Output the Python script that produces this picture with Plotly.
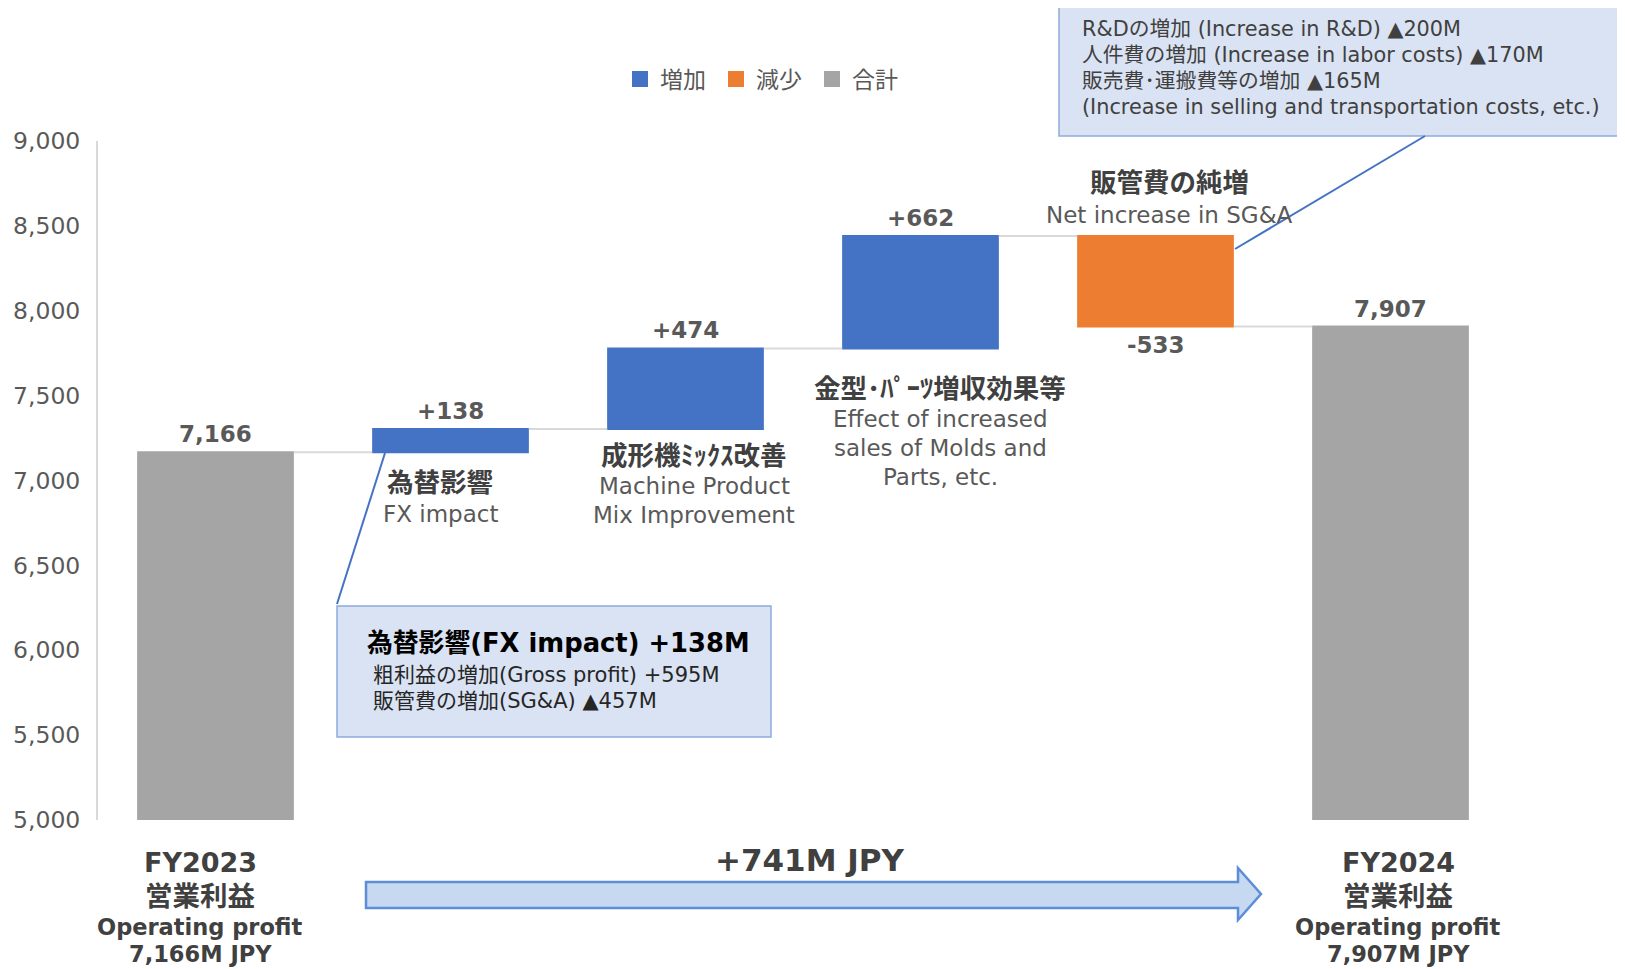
import plotly.graph_objects as go

# data
categories = ["FY2023", "為替影響", "成形機ﾐｯｸｽ改善", "金型･ﾊﾟｰﾂ増収効果等", "販管費の純増", "FY2024"]
values = [7166, 138, 474, 662, -533, 7907]
measures = ["absolute", "relative", "relative", "relative", "relative", "total"]
value_labels = ["7,166", "+138", "+474", "+662", "-533", "7,907"]
legend_names = ["増加", "減少", "合計"]

BLUE, ORANGE, GRAY = "#4472c4", "#ed7d31", "#a5a5a5"
FONT = "DejaVu Sans, Noto Sans CJK JP"

# page is 1625x969; the html body adds an 8px margin, so the figure is drawn smaller
OFF = 8
PAGE_W, PAGE_H = 1625, 969
W, H = PAGE_W - OFF, PAGE_H - OFF
# plot area in page pixels
L, R, T, B = 98, 1508, 141, 820


def px(x):
    return (x - L) / (R - L)


def py(y):
    return (B - y) / (B - T)


fig = go.Figure()

fig.add_trace(go.Waterfall(
    x=categories, y=values, measure=measures,
    increasing=dict(marker=dict(color=BLUE)),
    decreasing=dict(marker=dict(color=ORANGE)),
    totals=dict(marker=dict(color=GRAY)),
    connector=dict(mode="between", line=dict(color="#d9d9d9", width=2)),
    textinfo="none", showlegend=False,
))

# legend entries
for name, col in zip(legend_names, [BLUE, ORANGE, GRAY]):
    fig.add_trace(go.Scatter(x=[None], y=[None], mode="markers", name=name,
                             marker=dict(symbol="square", size=19, color=col)))

annotations = []


def add_text(x, y, text, size, color="#595959", bold=False, xanchor="center"):
    annotations.append(dict(
        x=px(x), y=py(y), xref="paper", yref="paper", showarrow=False,
        xanchor=xanchor, yanchor="middle",
        text=f"<b>{text}</b>" if bold else text,
        font=dict(size=size, color=color, family=FONT),
    ))


# value labels on the bars
running = 0
for cat, v, m, lab in zip(categories, values, measures, value_labels):
    if m == "absolute":
        start, end = 0, v
    elif m == "total":
        start, end = 0, running
    else:
        start, end = running, running + v
    running = end
    up = end >= start
    annotations.append(dict(x=cat, y=end, yanchor="bottom" if up else "top",
                            yshift=3 if up else -3, showarrow=False,
                            text=f"<b>{lab}</b>",
                            font=dict(size=23, color="#595959", family=FONT)))

# step descriptions
add_text(440, 482, "為替影響", 26.5, "#404040", True)
add_text(440, 514, "FX impact", 23)
add_text(694, 455, "成形機ﾐｯｸｽ改善", 26.5, "#404040", True)
add_text(694, 486, "Machine Product", 23)
add_text(694, 515, "Mix Improvement", 23)
add_text(940, 388, "金型･ﾊﾟｰﾂ増収効果等", 26.5, "#404040", True)
add_text(940, 419, "Effect of increased", 23)
add_text(940, 448, "sales of Molds and", 23)
add_text(940, 477, "Parts, etc.", 23)
add_text(1169, 182, "販管費の純増", 26.5, "#404040", True)
add_text(1169, 215, "Net increase in SG&A", 23)

# FY labels under the axis
fy_labels = [(200, "FY2023", "7,166M JPY"), (1398, "FY2024", "7,907M JPY")]
for cx, fy, amt in fy_labels:
    add_text(cx, 862, fy, 27, "#404040", True)
    add_text(cx, 896, "営業利益", 27.5, "#404040", True)
    add_text(cx, 927, "Operating profit", 22.5, "#404040", True)
    add_text(cx, 954, amt, 22.5, "#404040", True)

add_text(810, 860, "+741M JPY", 31, "#404040", True)

# callout boxes
add_text(365, 643, "為替影響(FX impact) +138M", 25.8, "#000000", True, "left")
add_text(371, 675, "粗利益の増加(Gross profit) +595M", 21, "#262626", False, "left")
add_text(371, 701, "販管費の増加(SG&A) ▲457M", 21, "#262626", False, "left")

box2_lines = ["R&Dの増加 (Increase in R&D) ▲200M",
              "人件費の増加 (Increase in labor costs) ▲170M",
              "販売費･運搬費等の増加 ▲165M",
              "(Increase in selling and transportation costs, etc.)"]
for i, line in enumerate(box2_lines):
    add_text(1080, 29 + 26 * i, line, 20.8, "#404040", False, "left")

shapes = []
box_fill, box_line = "#dae3f3", "#8eaadb"
shapes.append(dict(type="rect", xref="paper", yref="paper", x0=px(337), x1=px(771), y0=py(606), y1=py(737),
                   fillcolor=box_fill, line=dict(color=box_line, width=1.5), layer="below"))
shapes.append(dict(type="rect", xref="paper", yref="paper", x0=px(1059), x1=px(1623), y0=py(4), y1=py(136),
                   fillcolor=box_fill, line=dict(color=box_line, width=1.5), layer="below"))
shapes.append(dict(type="line", xref="paper", yref="paper", x0=px(337), y0=py(604), x1=px(385), y1=py(453),
                   line=dict(color=BLUE, width=2)))
shapes.append(dict(type="line", xref="paper", yref="paper", x0=px(1425), y0=py(136), x1=px(1235), y1=py(249),
                   line=dict(color=BLUE, width=2)))

# big arrow
pts = [(366, 882), (1238, 882), (1238, 868), (1261, 894), (1238, 920), (1238, 908), (366, 908)]
path = "M " + " L ".join(f"{px(x):.5f},{py(y):.5f}" for x, y in pts) + " Z"
shapes.append(dict(type="path", xref="paper", yref="paper", path=path,
                   fillcolor="#c6d9f0", line=dict(color="#5b8ed6", width=2.5)))

fig.update_layout(
    width=W, height=H,
    margin=dict(l=L - OFF, r=PAGE_W - R, t=T - OFF, b=PAGE_H - B),
    plot_bgcolor="white", paper_bgcolor="white",
    font=dict(family=FONT, color="#595959"),
    waterfallgap=0.333,
    showlegend=True,
    legend=dict(orientation="h", x=px(620), xanchor="left", y=py(79), yanchor="middle",
                font=dict(size=23, color="#595959"), entrywidth=51, entrywidthmode="pixels"),
    xaxis=dict(showticklabels=False, showline=False, showgrid=False, zeroline=False,
               range=[-0.5, 5.5], automargin=False),
    yaxis=dict(range=[5000, 9000], dtick=500, tickformat=",", showgrid=False, zeroline=False,
               showline=True, linecolor="#d9d9d9", linewidth=2, ticks="",
               ticklabelstandoff=11, automargin=False,
               tickfont=dict(size=23.5, color="#595959")),
    annotations=annotations,
    shapes=shapes,
)

fig.write_html("out.html")
